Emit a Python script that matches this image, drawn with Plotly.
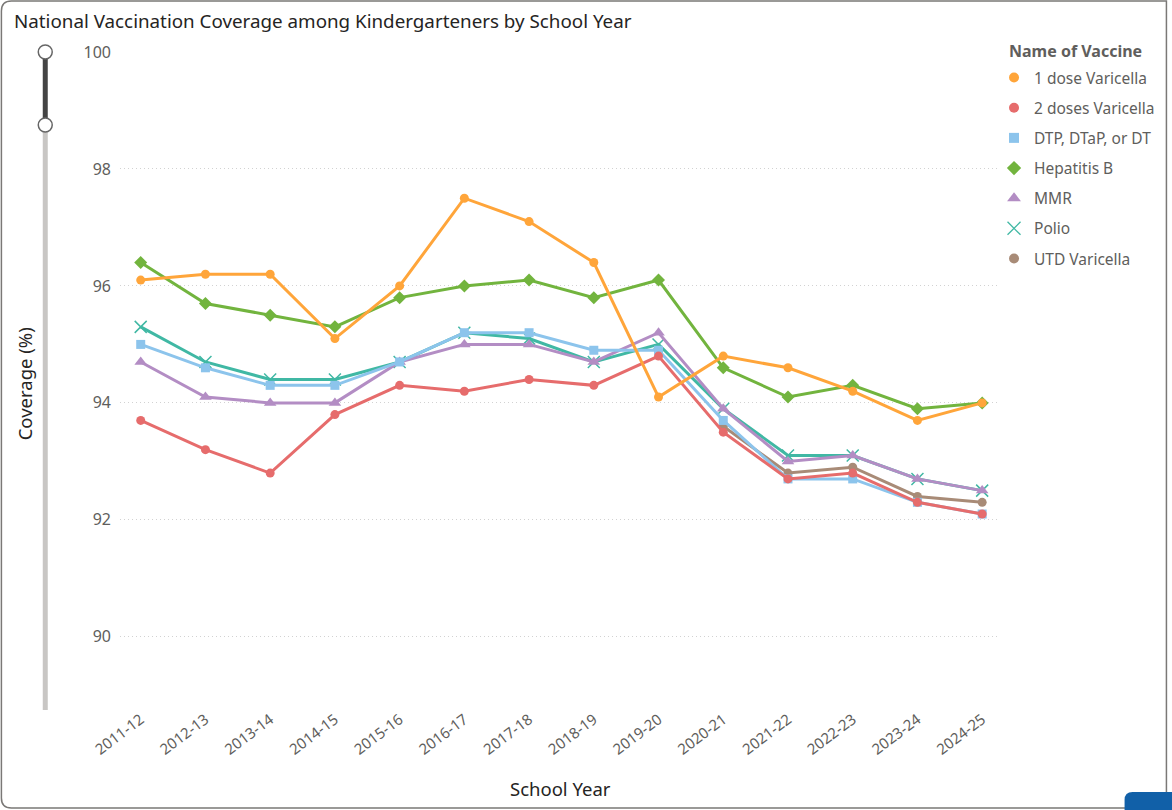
import plotly.graph_objects as go

W, H = 1172, 810
# plot area in pixels
PL, PR, PT, PB = 120, 1002, 52, 707

school_years = ["2011-12", "2012-13", "2013-14", "2014-15", "2015-16", "2016-17", "2017-18",
                "2018-19", "2019-20", "2020-21", "2021-22", "2022-23", "2023-24", "2024-25"]

dose1_varicella = [96.1, 96.2, 96.2, 95.1, 96.0, 97.5, 97.1, 96.4, 94.1, 94.8, 94.6, 94.2, 93.7, 94.0]
doses2_varicella = [93.7, 93.2, 92.8, 93.8, 94.3, 94.2, 94.4, 94.3, 94.8, 93.5, 92.7, 92.8, 92.3, 92.1]
dtp = [95.0, 94.6, 94.3, 94.3, 94.7, 95.2, 95.2, 94.9, 94.9, 93.7, 92.7, 92.7, 92.3, 92.1]
hep_b = [96.4, 95.7, 95.5, 95.3, 95.8, 96.0, 96.1, 95.8, 96.1, 94.6, 94.1, 94.3, 93.9, 94.0]
mmr = [94.7, 94.1, 94.0, 94.0, 94.7, 95.0, 95.0, 94.7, 95.2, 93.9, 93.0, 93.1, 92.7, 92.5]
polio = [95.3, 94.7, 94.4, 94.4, 94.7, 95.2, 95.1, 94.7, 95.0, 93.9, 93.1, 93.1, 92.7, 92.5]
utd_varicella = [None] * 9 + [93.6, 92.8, 92.9, 92.4, 92.3]

series = [
    ("1 dose Varicella", dose1_varicella, "#FFA53A", "circle"),
    ("2 doses Varicella", doses2_varicella, "#E66C6C", "circle"),
    ("DTP, DTaP, or DT", dtp, "#8CC4EC", "square"),
    ("Hepatitis B", hep_b, "#72B43E", "diamond"),
    ("MMR", mmr, "#B38DC4", "triangle-up"),
    ("Polio", polio, "#40B8A4", "x-thin-open"),
    ("UTD Varicella", utd_varicella, "#A88B77", "circle"),
]
marker_size = {"circle": 9, "square": 9, "diamond": 10, "triangle-up": 11, "x-thin-open": 12}

FONT = "Segoe UI, Noto Sans, Open Sans, sans-serif"


def px(x):
    return (x - PL) / (PR - PL)


def py(y):
    return (PB - y) / (PB - PT)


fig = go.Figure()

# lines drawn in reverse so the first series sits on top
for name, vals, color, symbol in reversed(series):
    mk = dict(symbol=symbol, color=color, size=marker_size[symbol])
    if symbol == "x-thin-open":
        mk["line"] = dict(width=1.5, color=color)
    fig.add_trace(go.Scatter(
        x=school_years, y=vals, mode="lines+markers", name=name,
        line=dict(color=color, width=3), marker=mk, showlegend=False,
    ))

# legend entries show only the marker, as in the source
for name, vals, color, symbol in series:
    mk = dict(symbol=symbol, color=color, size=marker_size[symbol] + 1)
    if symbol == "x-thin-open":
        mk["line"] = dict(width=1.3, color=color)
    fig.add_trace(go.Scatter(
        x=[None], y=[None], mode="markers", name=name, marker=mk,
        legendgroup=name, showlegend=True,
    ))

shapes = [
    # outer card border
    dict(type="path", xref="paper", yref="paper", layer="below",
         path=(f"M {px(11)},{py(1)} L {px(1170)},{py(1)} L {px(1170)},{py(808)} "
               f"L {px(11)},{py(808)} Q {px(1)},{py(808)} {px(1)},{py(798)} "
               f"L {px(1)},{py(11)} Q {px(1)},{py(1)} {px(11)},{py(1)} Z"),
         line=dict(color="#7A7876", width=1.5), fillcolor="rgba(0,0,0,0)"),
    # zoom slider track
    dict(type="line", xref="paper", yref="paper", x0=px(45), x1=px(45), y0=py(125), y1=py(710),
         line=dict(color="#C8C6C4", width=5)),
    dict(type="line", xref="paper", yref="paper", x0=px(45), x1=px(45), y0=py(52), y1=py(125),
         line=dict(color="#444444", width=5)),
    dict(type="circle", xref="paper", yref="paper", x0=px(38), x1=px(52), y0=py(45), y1=py(59),
         line=dict(color="#666666", width=1.5), fillcolor="white"),
    dict(type="circle", xref="paper", yref="paper", x0=px(38), x1=px(52), y0=py(118), y1=py(132),
         line=dict(color="#666666", width=1.5), fillcolor="white"),
    # blue corner button
    dict(type="path", xref="paper", yref="paper",
         path=(f"M {px(1128)},{py(815)} L {px(1128)},{py(800)} Q {px(1128)},{py(792)} {px(1136)},{py(792)} "
               f"L {px(1180)},{py(792)} L {px(1180)},{py(815)} Z"),
         line=dict(width=0), fillcolor="#1160A8"),
]

annotations = [
    dict(text="National Vaccination Coverage among Kindergarteners by School Year",
         x=px(12), y=py(21), xref="paper", yref="paper", xanchor="left", yanchor="middle",
         showarrow=False, font=dict(size=18.8, color="#252423", family=FONT)),
    dict(text="Coverage (%)", x=px(24), y=py(384), xref="paper", yref="paper",
         textangle=-90, showarrow=False, xanchor="center", yanchor="middle",
         font=dict(size=18.5, color="#252423", family=FONT)),
    dict(text="School Year", x=px(562), y=py(789), xref="paper", yref="paper",
         showarrow=False, xanchor="center", yanchor="middle",
         font=dict(size=18.5, color="#252423", family=FONT)),
    dict(text="<b>Name of Vaccine</b>", x=px(1010), y=py(51), xref="paper", yref="paper",
         showarrow=False, xanchor="left", yanchor="middle",
         font=dict(size=16, color="#605E5C", family=FONT)),
]

fig.update_xaxes(
    type="category", range=[-0.32, 13.26], showgrid=False, zeroline=False, showline=False,
    tickangle=-37, tickfont=dict(size=15, color="#605E5C", family=FONT), ticks="",
)
fig.update_yaxes(
    range=[88.8, 100], dtick=2, tick0=90, showgrid=True, gridcolor="#D2D2D2", griddash="1px,3px",
    gridwidth=1, zeroline=False, showline=False, ticks="", ticklabelstandoff=8,
    tickfont=dict(size=16, color="#605E5C", family=FONT),
)
fig.update_layout(
    width=W, height=H, autosize=False,
    margin=dict(l=PL, r=W - PR, t=PT, b=H - PB),
    paper_bgcolor="white", plot_bgcolor="white",
    font=dict(family=FONT, color="#605E5C"),
    shapes=shapes, annotations=annotations,
    legend=dict(
        x=px(997), y=py(61), xanchor="left", yanchor="top",
        font=dict(size=15.5, color="#605E5C", family=FONT),
        tracegroupgap=7, itemwidth=30, bgcolor="rgba(0,0,0,0)",
    ),
)

fig.write_html("out.html", config={"displayModeBar": False},
               post_script="document.body.style.margin='0px';")
